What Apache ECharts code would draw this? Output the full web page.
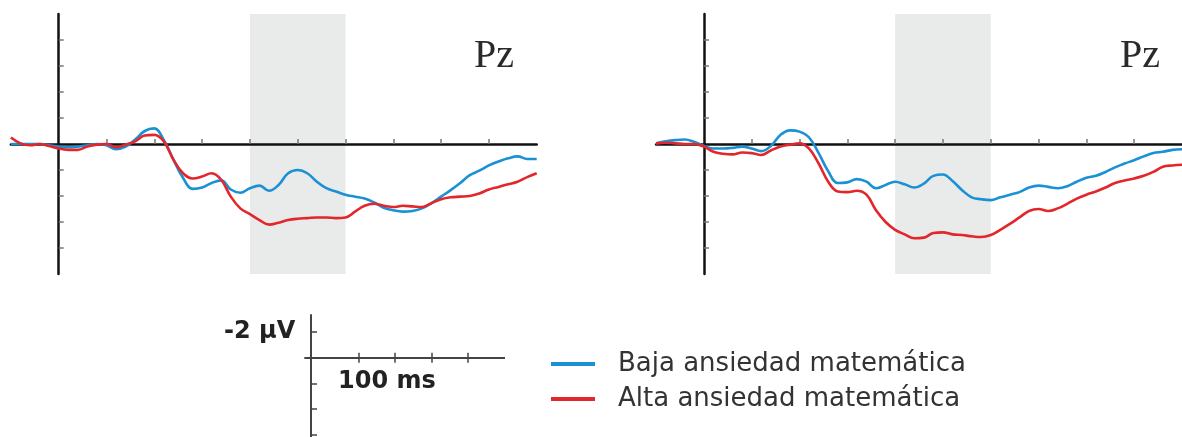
<!DOCTYPE html>
<html>
<head>
<meta charset="utf-8">
<script src="https://cdn.jsdelivr.net/npm/echarts@6/dist/echarts.min.js"></script>
<style>
  html, body { margin: 0; padding: 0; background: #fff; }
  #chart { width: 1182px; height: 437px; }
</style>
</head>
<body>
<div id="chart"></div>
<script>
// tiempo (ms), cada 20 ms de -100 a 1000
var tiempos = [];
for (var t = -100; t <= 1000; t += 20) tiempos.push(t);

var nombres = ['Baja ansiedad matemática', 'Alta ansiedad matemática'];

// panel izquierdo (µV)
var izqBaja = [0.0, 0.0, 0.0, 0.0, 0.1, 0.2, 0.25, 0.2, 0.1, 0.0, 0.1, 0.4, 0.2, -0.35, -1.0, -1.2, -0.3, 1.2, 2.6, 3.45,
  3.35, 3.0, 2.8, 3.5, 3.75, 3.4, 3.2, 3.6, 3.15, 2.25, 2.0, 2.25, 2.9, 3.4, 3.65, 3.9, 4.05, 4.2, 4.5, 4.9,
  5.1, 5.2, 5.15, 4.95, 4.55, 4.05, 3.55, 3.0, 2.4, 2.05, 1.65, 1.35, 1.1, 0.95, 1.15, 1.15];
var izqAlta = [-0.5, -0.05, 0.1, 0.0, 0.15, 0.35, 0.45, 0.45, 0.2, 0.05, 0.0, 0.25, 0.05, -0.2, -0.65, -0.7, -0.2, 1.2, 2.25, 2.65,
  2.5, 2.25, 2.75, 4.05, 4.95, 5.4, 5.85, 6.2, 6.05, 5.85, 5.75, 5.7, 5.65, 5.65, 5.7, 5.65, 5.2, 4.75, 4.6, 4.75,
  4.85, 4.75, 4.8, 4.85, 4.55, 4.25, 4.1, 4.05, 4.0, 3.8, 3.5, 3.3, 3.1, 2.9, 2.55, 2.25];

// panel derecho (µV)
var derBaja = [-0.05, -0.2, -0.3, -0.35, -0.15, 0.15, 0.35, 0.35, 0.3, 0.2, 0.35, 0.55, 0.15, -0.7, -1.05, -0.95, -0.5, 0.7, 2.1, 3.0,
  2.95, 2.7, 2.9, 3.4, 3.15, 2.9, 3.1, 3.35, 3.05, 2.45, 2.35, 2.85, 3.55, 4.1, 4.25, 4.32, 4.1, 3.9, 3.7, 3.35,
  3.2, 3.3, 3.4, 3.25, 2.9, 2.6, 2.45, 2.15, 1.8, 1.5, 1.25, 0.95, 0.7, 0.6, 0.45, 0.4];
var derAlta = [-0.05, -0.1, -0.05, 0, 0, 0.2, 0.6, 0.75, 0.8, 0.65, 0.7, 0.85, 0.5, 0.2, 0.05, -0.05, 0.35, 1.5, 2.9, 3.65,
  3.7, 3.6, 3.9, 5.1, 6.0, 6.6, 6.95, 7.25, 7.2, 6.85, 6.8, 6.95, 7.0, 7.1, 7.15, 7.0, 6.6, 6.15, 5.65, 5.15,
  5.0, 5.15, 4.95, 4.6, 4.2, 3.9, 3.65, 3.35, 3.0, 2.8, 2.65, 2.45, 2.15, 1.75, 1.65, 1.6];

var ventana = [400, 600];          // zona sombreada (ms)
var ticksX = [100, 200, 300, 400, 500, 600, 700, 800, 900];
var ticksY = [-8, -6, -4, -2, 2, 4, 6, 8];
var escalaTicksX = [100, 176, 252, 328];
var escalaTicksY = [-2, 0, 2, 4, 6];

var AZUL = '#1a90d5';
var ROJO = '#e3262b';

function pares(valores) {
  return tiempos.map(function (t, i) { return [t, valores[i]]; });
}

function ejeX(grid) {
  return {
    gridIndex: grid, type: 'value', min: -100, max: 1000, z: 3,
    axisLine: { onZero: true, lineStyle: { color: '#111', width: 2.5 } },
    axisTick: { inside: true, length: 5, customValues: ticksX, lineStyle: { color: '#777', width: 1.5 } },
    axisLabel: { show: false },
    splitLine: { show: false }
  };
}

function ejeY(grid) {
  return {
    gridIndex: grid, type: 'value', inverse: true, min: -10, max: 10, z: 3,
    axisLine: { onZero: true, lineStyle: { color: '#111', width: 2.5 } },
    axisTick: { inside: true, length: 5, customValues: ticksY, lineStyle: { color: '#777', width: 1.5 } },
    axisLabel: { show: false },
    splitLine: { show: false }
  };
}

// eje x de la escala (ticks hacia arriba o hacia abajo)
function escalaX(grid, dentro) {
  return {
    gridIndex: grid, type: 'value', min: -12, max: 404,
    axisLine: { onZero: true, lineStyle: { color: '#444', width: 2 } },
    axisTick: { inside: dentro, length: 5, customValues: escalaTicksX, lineStyle: { color: '#444', width: 1.5 } },
    axisLabel: { show: false }, splitLine: { show: false }
  };
}

function curva(nombre, idx, valores, color, sombra) {
  var s = {
    name: nombre, type: 'line', xAxisIndex: idx, yAxisIndex: idx,
    data: pares(valores), showSymbol: false, smooth: 0.4, z: 4,
    lineStyle: { color: color, width: 2.6 }, itemStyle: { color: color },
    silent: true
  };
  if (sombra) {
    s.markArea = {
      silent: true, z: 1,
      itemStyle: { color: '#e9ebeb' },
      data: [[{ xAxis: ventana[0] }, { xAxis: ventana[1] }]]
    };
  }
  return s;
}

var myChart = echarts.init(document.getElementById('chart'));

var option = {
  animation: false,
  grid: [
    { left: 10.9, top: 14, width: 525.8, height: 260 },
    { left: 656.1, top: 14, width: 527, height: 260 },
    { left: 305.3, top: 315, width: 198.8, height: 123 },
    { left: 305.3, top: 315, width: 198.8, height: 123 }
  ],
  xAxis: [
    ejeX(0),
    ejeX(1),
    escalaX(2, true),
    escalaX(3, false)
  ],
  yAxis: [
    ejeY(0),
    ejeY(1),
    {
      gridIndex: 2, type: 'value', inverse: true, min: -3.35, max: 6.2,
      axisLine: { onZero: true, lineStyle: { color: '#444', width: 2 } },
      axisTick: { inside: true, length: 6, customValues: escalaTicksY, lineStyle: { color: '#444', width: 1.5 } },
      axisLabel: {
        customValues: [-2], margin: 10,
        formatter: function (v) { return v + ' µV'; },
        fontFamily: 'DejaVu Sans', fontWeight: 'bold', fontSize: 24, color: '#222'
      },
      splitLine: { show: false }
    },
    {
      gridIndex: 3, type: 'value', inverse: true, min: -3.35, max: 6.2,
      axisLine: { show: false }, axisTick: { show: false },
      axisLabel: { show: false }, splitLine: { show: false }
    }
  ],
  legend: {
    data: nombres, orient: 'vertical', left: 551, top: 351, padding: 0,
    icon: 'rect', itemWidth: 44, itemHeight: 4, itemGap: 9,
    selectedMode: false,
    textStyle: { fontFamily: 'DejaVu Sans', fontSize: 26, color: '#333', lineHeight: 26, padding: [0, 0, 0, 18] }
  },
  graphic: [
    { type: 'text', left: 474, top: 36, style: { text: 'Pz', font: '40px "Liberation Serif"', fill: '#2a2a2a' } },
    { type: 'text', left: 1120, top: 36, style: { text: 'Pz', font: '40px "Liberation Serif"', fill: '#2a2a2a' } },
    { type: 'text', left: 338, top: 370, style: { text: '100 ms', font: 'bold 24px "DejaVu Sans"', fill: '#222' } }
  ],
  series: [
    curva(nombres[0], 0, izqBaja, AZUL, true),
    curva(nombres[1], 0, izqAlta, ROJO, false),
    curva(nombres[0], 1, derBaja, AZUL, true),
    curva(nombres[1], 1, derAlta, ROJO, false)
  ]
};

myChart.setOption(option);
</script>
</body>
</html>
